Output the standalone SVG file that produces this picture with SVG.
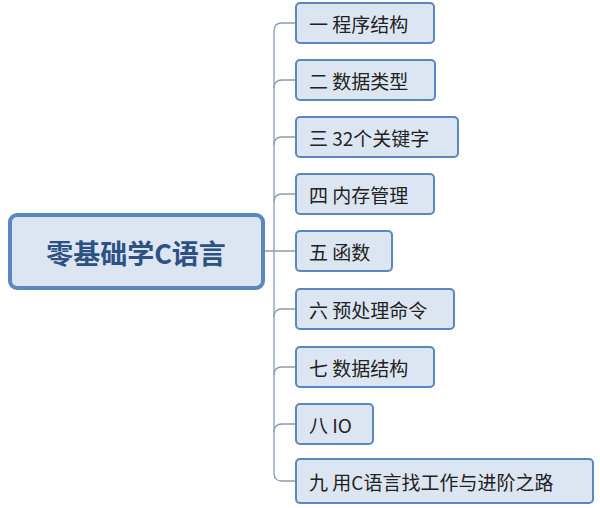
<svg xmlns="http://www.w3.org/2000/svg" width="600" height="508" viewBox="0 0 600 508">
<style>
.n{fill:#dce6f2;stroke:#5b87bd;stroke-width:2}
.t{font-family:"Noto Sans CJK SC","Liberation Sans",sans-serif;font-size:19px;fill:#222;dominant-baseline:central}
.c{fill:none;stroke:#8a9db3;stroke-width:1.3}
</style>
<rect width="600" height="508" fill="#fff"/>
<g id="connectors">
<path class="c" d="M263 251H296"/>
<path class="c" d="M296 23H282Q274 23 274 31V473Q274 481 282 481H296"/>
<path class="c" d="M274 88Q274 80 282 80H296M274 145Q274 137 282 137H296M274 202Q274 194 282 194H296M274 317Q274 309 282 309H296M274 375Q274 367 282 367H296M274 432Q274 424 282 424H296"/>
</g>
<g id="root"><rect x="10" y="215" width="253" height="73" rx="7" fill="#dce6f2" stroke="#5b87bd" stroke-width="4"/><text x="136" y="252" text-anchor="middle" class="t" style="font-size:27px;font-weight:bold;fill:#2c5182">零基础学C语言</text></g>
<g id="n1"><rect class="n" x="296" y="3" width="138" height="40" rx="4"/><text class="t" x="309" y="23">一 程序结构</text></g>
<g id="n2"><rect class="n" x="296" y="60" width="139" height="40" rx="4"/><text class="t" x="309" y="80">二 数据类型</text></g>
<g id="n3"><rect class="n" x="296" y="117" width="162" height="40" rx="4"/><text class="t" x="309" y="137">三 32个关键字</text></g>
<g id="n4"><rect class="n" x="296" y="174" width="138" height="40" rx="4"/><text class="t" x="309" y="194">四 内存管理</text></g>
<g id="n5"><rect class="n" x="296" y="231" width="96" height="40" rx="4"/><text class="t" x="309" y="251">五 函数</text></g>
<g id="n6"><rect class="n" x="296" y="289" width="158" height="40" rx="4"/><text class="t" x="309" y="309">六 预处理命令</text></g>
<g id="n7"><rect class="n" x="296" y="347" width="138" height="40" rx="4"/><text class="t" x="309" y="367">七 数据结构</text></g>
<g id="n8"><rect class="n" x="296" y="404" width="77" height="40" rx="4"/><text class="t" x="309" y="424">八 IO</text></g>
<g id="n9"><rect class="n" x="296" y="459" width="297" height="44" rx="4"/><text class="t" x="309" y="481">九 用C语言找工作与进阶之路</text></g>
</svg>
